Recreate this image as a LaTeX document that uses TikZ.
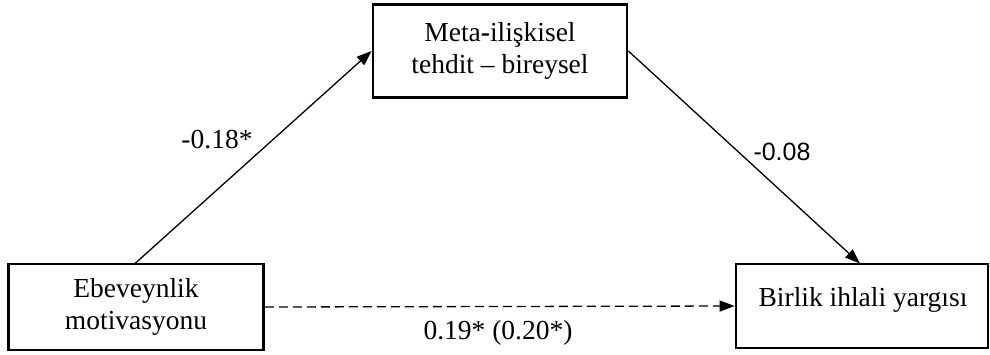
\documentclass[tikz,border=0pt]{standalone}
\usepackage{fontspec}
\setmainfont{Liberation Serif}
\newfontfamily\arialf{Liberation Sans}
\usetikzlibrary{arrows.meta}
\begin{document}
\begin{tikzpicture}[x=1pt,y=-1pt,
  box/.style={draw, line width=2.8pt, align=center, font=\fontsize{27.5}{32}\selectfont, inner sep=0pt},
  conn/.style={line width=1.3pt, -{Triangle[length=15pt,width=11pt]}},
  lab/.style={font=\fontsize{27.5}{32}\selectfont}]
\useasboundingbox (0,0) rectangle (990,354);
\node[box, minimum width=255pt, minimum height=86pt] (ebev) at (136,307) {Ebeveynlik\\motivasyonu};
\node[box, minimum width=254pt, minimum height=93pt] (meta) at (500,51) {Meta\textbf{-}ilişkisel\\tehdit -- bireysel};
\node[box, minimum width=252pt, minimum height=84pt] (birl) at (862,306) {};
\node[font=\fontsize{27.5}{32}\selectfont] (birlt) at (863,300) {Birlik ihlali yargısı};
\coordinate (a1) at (135,263.5);
\coordinate (a2) at (860,263.5);
\draw[conn] (a1) -- (meta.west);
\draw[conn] (meta.east) -- (a2);
\draw[conn, dashed, dash pattern=on 9pt off 5pt] (ebev.east) -- (birl.west);
\node[lab] (l1) at (217,140) {-0.18*};
\node[font=\arialf\fontsize{25}{30}\selectfont] (l2) at (782,152) {-0.08};
\node[lab] (l3) at (498,333) {0.19* (0.20*)};
\end{tikzpicture}
\end{document}
